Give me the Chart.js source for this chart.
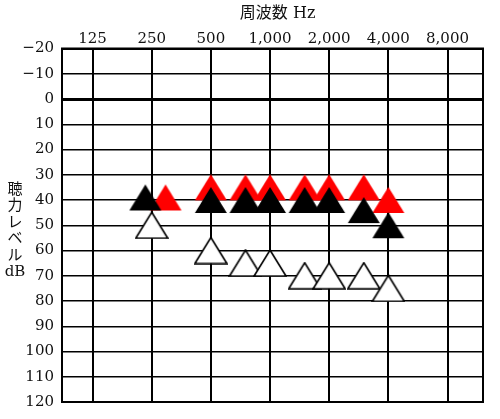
<!DOCTYPE html>
<html lang="ja">
<head>
<meta charset="utf-8">
<title>オージオグラム</title>
<script src="https://cdn.jsdelivr.net/npm/chart.js@4.4.1/dist/chart.umd.min.js"></script>
<style>
  html, body { margin: 0; padding: 0; background: #fff; }
  #wrap { width: 500px; height: 419px; }
</style>
</head>
<body>
<div id="wrap"><canvas id="audiogram" width="500" height="419"></canvas></div>
<script>
// 周波数 (Hz) と聴力レベル (dB) - 図から読み取った値
const freqTicks = [125, 250, 500, 1000, 2000, 4000, 8000]
const levelTicks = [-20, -10, 0, 10, 20, 30, 40, 50, 60, 70, 80, 90, 100, 110, 120]

const blackFreqs = [232, 500, 750, 1000, 1500, 2000, 3000, 4000]
const blackLevels = [39, 40, 40, 40, 40, 40, 44, 50]

const redFreqs = [294, 500, 750, 1000, 1500, 2000, 3000, 4000]
const redLevels = [39, 35, 35, 35, 35, 35, 35, 40]

const whiteFreqs = [250, 500, 750, 1000, 1500, 2000, 3000, 4000]
const whiteLevels = [50, 60, 65, 65, 70, 70, 70, 75]

const yTitleLines = ['聴', '力', 'レ', 'ベ', 'ル', 'dB']

const serif = '"DejaVu Serif", "Liberation Serif", "Noto Sans CJK JP", serif'

// 三角マーカー (中心 = 外接矩形の中心)
function makeTriangle(fill, stroke) {
    const w = 34, h = 28
    const c = document.createElement('canvas')
    c.width = w
    c.height = h
    const g = c.getContext('2d')
    g.beginPath()
    g.moveTo(w / 2, 1)
    g.lineTo(w - 1, h - 1)
    g.lineTo(1, h - 1)
    g.closePath()
    g.fillStyle = fill
    g.fill()
    if (stroke) {
        g.lineWidth = 1.6
        g.lineJoin = 'miter'
        g.strokeStyle = stroke
        g.stroke()
    }
    return c
}

function toPoints(xs, ys) {
    return xs.map((x, i) => ({ x: x, y: ys[i] }))
}

// 枠と縦書きの軸タイトル
const framePlugin = {
    id: 'frame',
    afterDraw(chart) {
        const { ctx, chartArea } = chart
        ctx.save()
        ctx.strokeStyle = '#000'
        ctx.lineWidth = 2
        ctx.strokeRect(chartArea.left, chartArea.top,
            chartArea.right - chartArea.left, chartArea.bottom - chartArea.top)
        ctx.fillStyle = '#111'
        ctx.font = '15px ' + serif
        ctx.textAlign = 'center'
        ctx.textBaseline = 'middle'
        yTitleLines.forEach((t, i) => {
            ctx.fillText(t, 15, 190 + i * 16.5)
        })
        ctx.restore()
    }
}

const ctx = document.getElementById('audiogram').getContext('2d')

new Chart(ctx, {
    type: 'scatter',
    data: {
        datasets: [
            {
                label: '黒',
                data: toPoints(blackFreqs, blackLevels),
                pointStyle: makeTriangle('#000', null),
                pointRadius: 16,
                showLine: false
            },
            {
                label: '赤',
                data: toPoints(redFreqs, redLevels),
                pointStyle: makeTriangle('#ff0000', null),
                pointRadius: 16,
                showLine: false
            },
            {
                label: '白',
                data: toPoints(whiteFreqs, whiteLevels),
                pointStyle: makeTriangle('#fff', '#000'),
                pointRadius: 16,
                showLine: false
            }
        ]
    },
    options: {
        responsive: false,
        animation: false,
        layout: { padding: { left: 0, top: 0, right: 10, bottom: 10.5 } },
        plugins: {
            legend: { display: false },
            tooltip: { enabled: false }
        },
        scales: {
            x: {
                type: 'logarithmic',
                position: 'top',
                bounds: 'data',
                min: 87.4,
                max: 12126,
                afterBuildTicks: (scale) => {
                    scale.ticks = freqTicks.map(v => ({ value: v }))
                },
                afterFit: (scale) => { scale.height = 48.5 },
                grid: {
                    color: '#000',
                    lineWidth: 2,
                    drawTicks: false
                },
                border: { display: true, color: '#000', width: 2 },
                ticks: {
                    autoSkip: false,
                    maxRotation: 0,
                    padding: 0,
                    color: '#111',
                    font: { family: serif, size: 15 },
                    callback: (v) => Number(v).toLocaleString('en-US')
                },
                title: {
                    display: true,
                    text: '  周波数 Hz',
                    color: '#111',
                    font: { family: serif, size: 16 },
                    padding: { top: 4, bottom: 0 }
                }
            },
            y: {
                type: 'linear',
                reverse: true,
                min: levelTicks[0],
                max: levelTicks[levelTicks.length - 1],
                afterBuildTicks: (scale) => {
                    scale.ticks = levelTicks.map(v => ({ value: v }))
                },
                afterFit: (scale) => { scale.width = 62 },
                grid: {
                    color: '#000',
                    lineWidth: (c) => (c.tick && c.tick.value === 0 ? 3 : 1.5),
                    drawTicks: false
                },
                border: { display: true, color: '#000', width: 2 },
                ticks: {
                    padding: 8,
                    color: '#111',
                    font: { family: serif, size: 15 },
                    callback: (v) => (v < 0 ? '−' + Math.abs(v) : String(v))
                }
            }
        }
    },
    plugins: [framePlugin]
});
</script>
</body>
</html>
